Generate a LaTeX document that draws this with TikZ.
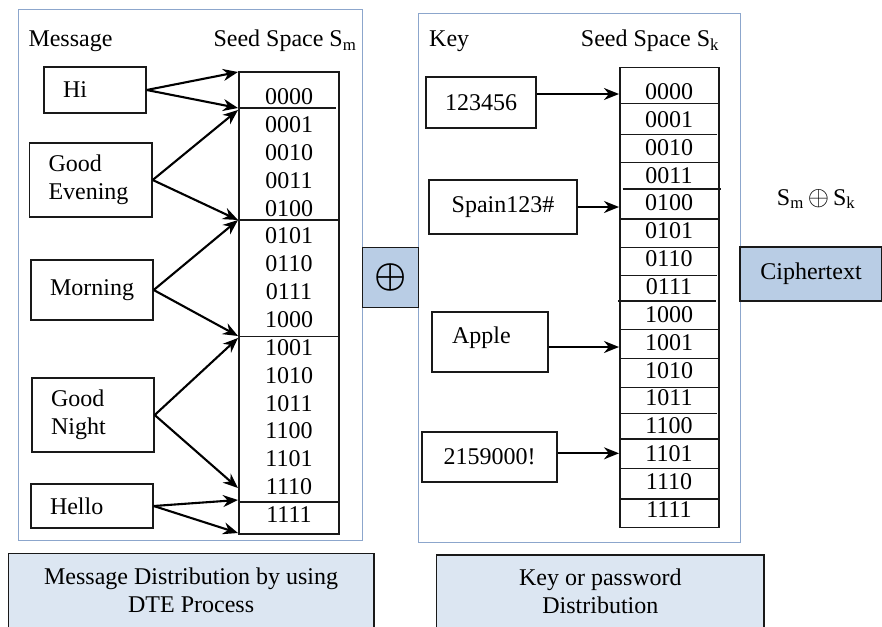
\documentclass[tikz,border=0pt]{standalone}
\usepackage{fontspec}
\setmainfont{Liberation Serif}
\usetikzlibrary{arrows.meta}
\definecolor{panelc}{RGB}{140,166,204}
\definecolor{opfill}{RGB}{185,205,229}
\definecolor{capfill}{RGB}{220,230,242}
\definecolor{inkc}{RGB}{25,25,25}
\tikzset{
  panel/.style={draw=panelc, line width=1pt},
  box/.style={draw=inkc, line width=1.4pt, inner sep=0pt, text=black},
  lbox/.style={box, align=left, inner xsep=19pt, inner ysep=0pt},
  arr/.style={draw=black, line width=2.1pt, -{Stealth[length=15pt,width=12pt]}},
  col/.style={draw=inkc, line width=1.5pt},
  dig/.style={inner sep=0pt, anchor=center},
  hdr/.style={inner sep=0pt, anchor=base west},
  shaded/.style={box, fill=opfill, line width=1.4pt},
  caption/.style={box, fill=capfill, line width=1.5pt, align=center}
}
\begin{document}
\begin{tikzpicture}[x=1pt,y=-1pt,font=\fontsize{24}{28}\selectfont]
\useasboundingbox (0,0) rectangle (882,626);

% panels
\draw[panel] (18.3,9.3) rectangle (362.3,540.6);
\draw[panel] (418.3,13.3) rectangle (740.7,542.7);

% headers
\node[hdr] (hmsg) at (28.3,46.7) {Message};
\node[hdr] (hsm) at (213.3,46.7) {Seed Space S\textsubscript{m}};
\node[hdr] (hkey) at (429,46.7) {Key};
\node[hdr] (hsk) at (580.7,46.7) {Seed Space S\textsubscript{k}};

% message boxes
\node[lbox, text width=64pt, minimum height=46pt] (hi) at (95,90) {Hi};
\node[lbox, text width=84.5pt, minimum height=74pt] (ge) at (90.75,180) {Good\\Evening};
\node[box, minimum width=122pt, minimum height=60pt] (mo) at (92,290) {Morning};
\node[lbox, text width=84pt, minimum height=74pt] (gn) at (93,415) {Good\\Night};
\node[lbox, text width=84pt, minimum height=44pt] (he) at (92,506) {Hello};

% seed space S_m
\node[col, minimum width=100pt, minimum height=462pt, inner sep=0pt] (smcol) at (289,303) {};
\draw[col] (239,108) -- (336,108);
\draw[col] (239,220) -- (339,220);
\draw[col] (239,336.7) -- (339,336.7);
\draw[col] (239,502) -- (339,502);
\foreach \i/\t in {0/0000,1/0001,2/0010,3/0011,4/0100,5/0101,6/0110,7/0111,8/1000,9/1001,10/1010,11/1011,12/1100,13/1101,14/1110,15/1111}
  \node[dig] (m\i) at (289,96.8+27.85*\i) {\t};

% tips on S_m
\coordinate (t0) at (238,72);
\coordinate (t1) at (238,108);
\coordinate (t2) at (238,110);
\coordinate (t3) at (238,220);
\coordinate (t4) at (238,336);
\coordinate (t5) at (238,338);
\coordinate (t6) at (238,488);
\coordinate (t7) at (238,500);
\coordinate (t8) at (238,533);

\draw[arr] (hi.east) -- (t0);
\draw[arr] (hi.east) -- (t1);
\draw[arr] (ge.east) -- (t2);
\draw[arr] (ge.east) -- (t3);
\draw[arr] (mo.east) -- (t3);
\draw[arr] (mo.east) -- (t4);
\draw[arr] (gn.east) -- (t5);
\draw[arr] (gn.east) -- (t6);
\draw[arr] (he.east) -- (t7);
\draw[arr] (he.east) -- (t8);

% XOR box
\node[shaded, minimum width=56pt, minimum height=60pt] (xor) at (390.3,277.5) {\scalebox{1.45}{\boldmath$\oplus$}};

% key boxes
\node[box, minimum width=110pt, minimum height=51pt] (kb1) at (481,102.5) {123456};
\node[box, minimum width=148pt, minimum height=54pt] (kb2) at (503,207) {Spain123\#};
\node[lbox, inner xsep=20pt, text width=76pt, minimum height=60pt, text depth=14pt] (kb3) at (490,342) {Apple};
\node[box, minimum width=135pt, minimum height=50pt] (kb4) at (489.5,457) {2159000!};

% seed space S_k
\node[col, minimum width=99pt, minimum height=460pt, inner sep=0pt] (skcol) at (669.5,297.7) {};
\foreach \y/\xa/\xb in {103.3/620/719,134.3/619.3/717.3,162.3/620/719,189/622.7/720.7,219/620/719,247.7/620/719,275.7/619.3/717.3,301/618/716,329.3/620/719,358.3/620/719,387.7/620/719,413.3/620/717,439/620/719,468.3/620/719,499/620/719}
  \draw[col] (\xa,\y) -- (\xb,\y);
\foreach \i/\t in {0/0000,1/0001,2/0010,3/0011,4/0100,5/0101,6/0110,7/0111,8/1000,9/1001,10/1010,11/1011,12/1100,13/1101,14/1110,15/1111}
  \node[dig] (r\i) at (669,91.7+27.85*\i) {\t};

\coordinate (u1) at (619,94);
\coordinate (u2) at (619,207);
\coordinate (u3) at (619,347);
\coordinate (u4) at (619,453.3);
\draw[arr] (kb1.east |- u1) -- (u1);
\draw[arr] (kb2.east |- u2) -- (u2);
\draw[arr] (kb3.east |- u3) -- (u3);
\draw[arr] (kb4.east |- u4) -- (u4);

% result
\node[hdr] (res) at (776.7,205) {S\textsubscript{m}\,\scalebox{1.1}{$\oplus$}\,S\textsubscript{k}};
\node[shaded, minimum width=142pt, minimum height=54pt] (ct) at (811,274) {Ciphertext};

% captions
\node[caption, minimum width=365.7pt, minimum height=74.7pt] (cap1) at (191.15,590.65) {Message Distribution by using\\DTE Process};
\node[caption, minimum width=327.3pt, minimum height=73pt] (cap2) at (600.35,591.5) {Key or password\\Distribution};
\end{tikzpicture}
\end{document}
